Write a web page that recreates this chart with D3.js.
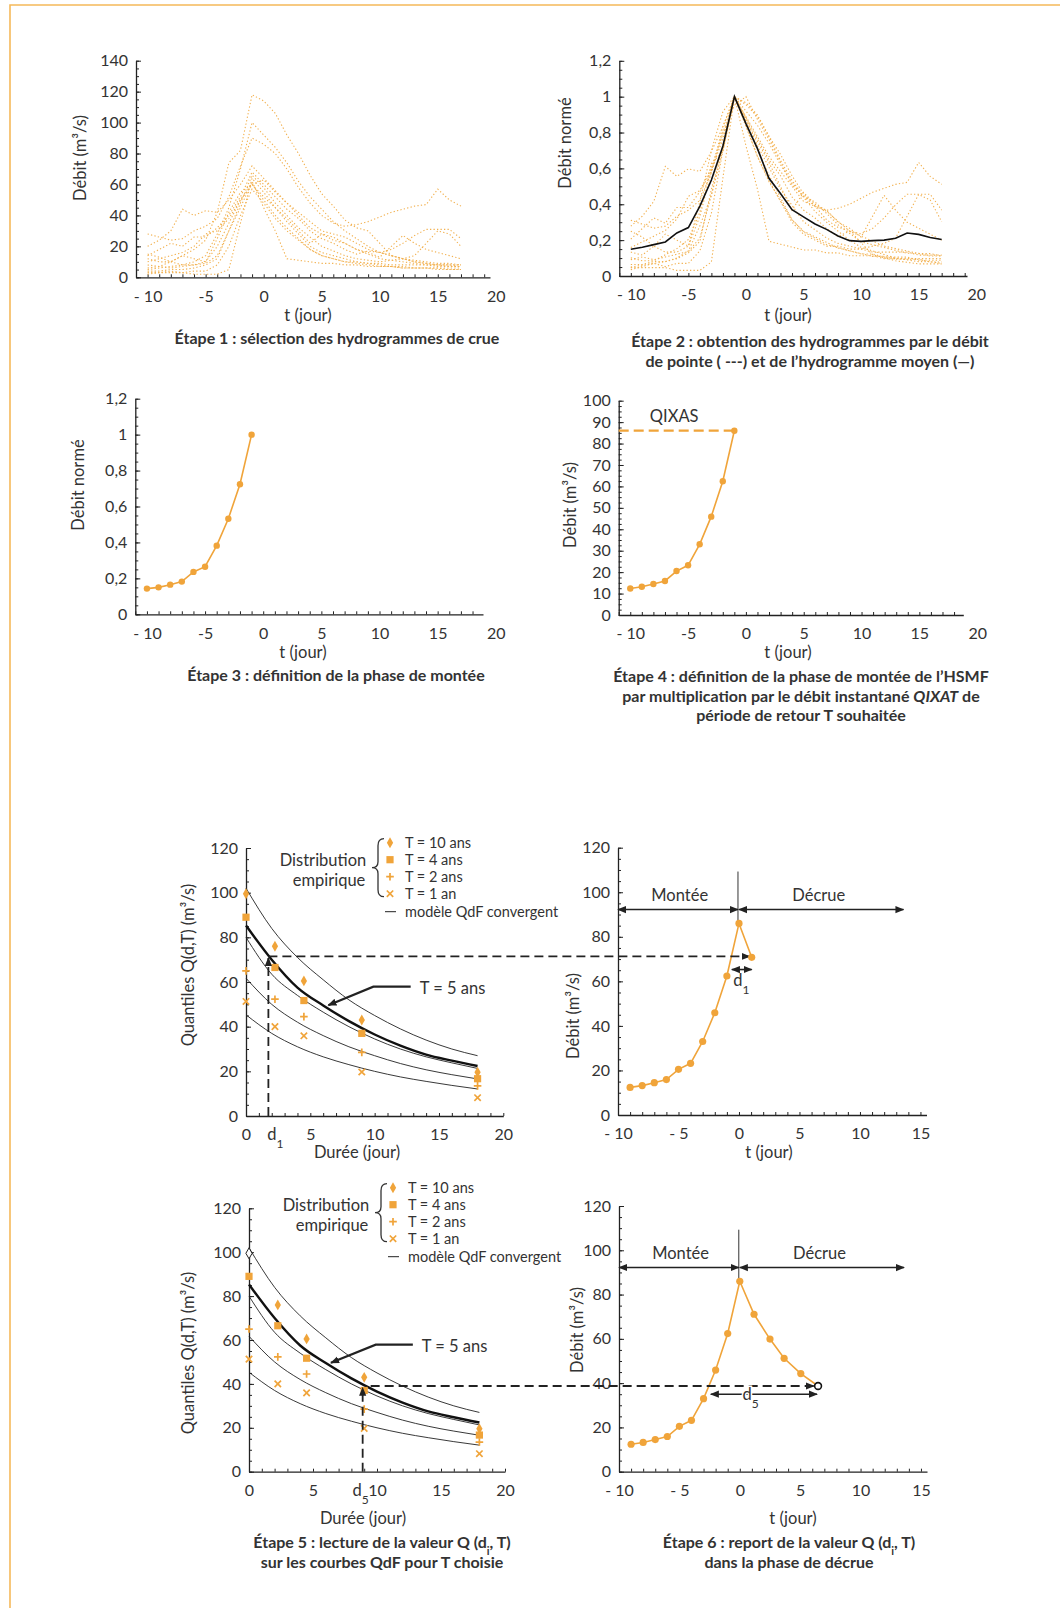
<!DOCTYPE html>
<html>
<head>
<meta charset="utf-8">
<script src="https://cdn.jsdelivr.net/npm/d3@7"></script>
<style>
  body { margin: 0; background: #fff; }
  text { font-family: Lato, "Open Sans", sans-serif; fill: #333; }
</style>
</head>
<body>
<div id="fig"></div>
<script>

// ---- data ----
var jours = [-10,-9,-8,-7,-6,-5,-4,-3,-2,-1,0,1,2,3,4,5,6,7,8,9,10,11,12,13,14,15,16,17];

// selected flood hydrographs (m3/s)
var crue01 = [12,10,10,14,18,24,42,74,82,118,114,106,92,80,66,54,46,37,32,30,22,14,12,10,9,8,8,8];
var crue02 = [5,6,7,8,10,14,28,45,70,100,92,84,74,62,52,44,36,30,25,20,16,14,12,10,9,8,8,7];
var crue03 = [28,26,24,25,30,33,38,52,72,90,86,80,70,58,48,40,35,33,34,36,39,42,44,46,47,57,50,46];
var crue04 = [20,24,30,44,40,43,42,50,60,72,64,56,48,42,36,30,28,26,22,18,16,14,12,11,10,9,9,8];
var crue05 = [14,18,22,20,26,26,32,40,52,68,60,52,44,38,30,25,22,18,15,17,16,18,22,27,31,31,31,25];
var crue06 = [10,12,14,16,20,28,30,38,50,60,63,55,48,40,32,28,26,22,18,15,12,11,10,9,8,8,7,7];
var crue07 = [4,4,5,5,6,8,12,30,45,62,45,30,12,11,10,9,9,8,8,7,7,7,6,6,6,6,6,6];
var crue08 = [3,3,3,3,2,2,2,5,35,64,55,45,36,28,20,16,14,12,10,9,8,7,7,6,6,6,5,5];
var crue09 = [8,7,10,14,12,10,25,42,55,60,52,45,38,30,22,28,24,22,18,16,13,20,27,22,18,16,14,12];
var crue10 = [6,7,6,7,8,9,14,30,48,66,58,48,40,32,26,20,17,14,12,11,10,11,12,14,22,30,28,20];
var crue11 = [15,13,10,8,8,10,20,35,50,60,50,40,32,25,18,14,12,10,10,9,9,8,8,8,8,7,7,7];
var crue12 = [2,3,4,3,4,4,8,20,40,57,48,38,30,24,18,14,12,10,9,8,7,7,6,6,6,5,5,5];
var crues = [crue01,crue02,crue03,crue04,crue05,crue06,crue07,crue08,crue09,crue10,crue11,crue12];

// mean normalised hydrograph (black line, step 2)
var hydroMoyen = [0.149,0.16,0.175,0.19,0.24,0.27,0.39,0.535,0.725,1.0,0.85,0.71,0.545,0.46,0.37,0.33,0.29,0.26,0.223,0.197,0.193,0.197,0.2,0.21,0.24,0.232,0.215,0.204];

// rising phase
var monteeT = [-10,-9,-8,-7,-6,-5,-4,-3,-2,-1];
var monteeNorm = [0.143,0.150,0.165,0.182,0.236,0.265,0.382,0.532,0.724,1.0];
var monteeQ = [12.4,13.2,14.5,15.9,20.5,23.2,33,45.9,62.4,86];
var qixas = 86;
var monteeT6 = [-9,-8,-7,-6,-5,-4,-3,-2,-1,0];

// falling phase, steps 6
var decrueT1 = [1.05], decrueQ1 = [70.8];
var decrueT5 = [1.18,2.5,3.67,5.05,6.48], decrueQ5 = [71.1,59.9,51.2,44.3,38.7];

// QdF: empirical quantiles
var durees = [0,2.25,4.5,9,18];
var empT10 = [99.5,76,60.5,43,19.6];
var empT4  = [89,66.5,51.7,37,16.7];
var empT2  = [65,52.3,44.5,28.5,13.5];
var empT1  = [51.3,40,35.9,19.7,8.2];

// QdF: converging model curves
var modD   = [0,2,4,6,8,10,12,14,16,18];
var modT10 = [102,84,71,61,52,45,39,34,30,27];
var modT5  = [85.3,70,57.5,49.5,42.5,36.5,31.5,27.5,24.8,22.4];
var modT4  = [80,63.5,54,46.5,40,34.5,30,26.5,23.8,21.3];
var modT2  = [61.7,50,42,36,31,27,23.5,20.7,18.5,16.6];
var modT1  = [45.3,37,31,26.5,23,20,17.5,15.5,13.7,12.1];

var d1 = 1.74, q1 = 71.2;
var d5 = 8.88, q5 = 38.7;

// tick labels
var tLabels = ["- 10","-5","0","5","10","15","20"];
var tTicks = [-10,-5,0,5,10,15,20];
var t6Labels = ["- 10","- 5","0","5","10","15"];
var t6Ticks = [-10,-5,0,5,10,15];

// ---- drawing ----
var ORANGE = "#f0a43a", DOTS = "#f2b150", INK = "#222";
var TITLE = 16.5;
var width = 1060, height = 1608;
var svg = d3.select("#fig").append("svg")
  .attr("width", width).attr("height", height);

var defs = svg.append("defs");
defs.append("marker").attr("id","ah")
  .attr("viewBox","0 0 10 10").attr("refX",9).attr("refY",5)
  .attr("markerWidth",9).attr("markerHeight",9)
  .attr("markerUnits","userSpaceOnUse")
  .attr("orient","auto-start-reverse")
  .append("path").attr("d","M0,1L10,5L0,9z").attr("fill",INK);

// frame
svg.append("path").attr("d","M10,1608V5H1060")
  .attr("fill","none").attr("stroke","#f5b95a").attr("stroke-width",1.6);

function range(a, b, s){ var r=[]; for (var v=a; v<=b+1e-9; v+=s) r.push(+v.toFixed(4)); return r; }

function axes(x, y, o){
  var y0 = y.range()[0], x0 = x.range()[0];
  var gx = svg.append("g").attr("transform","translate(0,"+y0+")");
  gx.call(d3.axisBottom(x).tickValues(o.xMinor).tickSize(-3).tickSizeOuter(0).tickFormat(""));
  var gxl = svg.append("g").attr("transform","translate(0,"+y0+")");
  gxl.call(d3.axisBottom(x).tickValues(o.xTicks).tickSize(0).tickPadding(o.xPad||13)
    .tickFormat(function(d,i){ return o.xLabels[i]; }));
  gxl.select(".domain").remove();

  var gy = svg.append("g").attr("transform","translate("+x0+",0)");
  gy.call(d3.axisLeft(y).tickValues(o.yMinor).tickSize(-3).tickSizeOuter(0).tickFormat(""));
  var gyl = svg.append("g").attr("transform","translate("+x0+",0)");
  gyl.call(d3.axisLeft(y).tickValues(o.yTicks).tickSize(-5).tickPadding(8).tickFormat(o.yFmt));
  gyl.select(".domain").remove();

  [gx,gxl,gy,gyl].forEach(function(g){
    g.selectAll(".domain").attr("stroke",INK).attr("stroke-width",1.3);
    g.selectAll(".tick line").attr("stroke",INK);
    g.selectAll("text").attr("font-family",null).attr("font-size",16).attr("fill","#333");
  });
}

function label(x, y, txt, rot, size){
  var t = svg.append("text").attr("text-anchor","middle")
    .attr("font-size", size||TITLE).attr("dominant-baseline","central");
  if (rot) t.attr("transform","translate("+x+","+y+") rotate(-90)");
  else t.attr("x",x).attr("y",y);
  t.text(txt);
  return t;
}

function caption(x, y, lines){
  lines.forEach(function(parts, i){
    var t = svg.append("text").attr("x",x).attr("y",y+i*19.5)
      .attr("text-anchor","middle").attr("font-size",16).attr("font-weight","bold")
      .attr("fill","#222");
    parts.forEach(function(p){
      var s = t.append("tspan").text(p.t);
      if (p.it) s.attr("font-style","italic");
      if (p.sub) s.attr("font-size",11).attr("baseline-shift","sub");
    });
  });
}

function subText(x, y, main, sub, halo){
  var t = svg.append("text").attr("x",x).attr("y",y).attr("text-anchor","middle")
    .attr("font-size",16.5).text(main);
  if (halo) t.attr("stroke","#fff").attr("stroke-width",3).attr("paint-order","stroke");
  t.append("tspan").attr("font-size",12).attr("baseline-shift","sub").text(sub);
}

var fmtComma = function(d){ return d3.format(".1~f")(d).replace(".",","); };

// ===== Step 1 =====
var x1 = d3.scaleLinear([-11,19.5],[136,490]);
var y1 = d3.scaleLinear([0,140],[277.3,60.7]);
axes(x1, y1, {xMinor: range(-11,19,1), xTicks: tTicks, xLabels: tLabels,
  yMinor: range(0,140,5), yTicks: range(0,140,20), yFmt: d3.format("d")});
var line1 = d3.line().x(function(d,i){ return x1(jours[i]); }).y(function(d){ return y1(d); });
svg.append("g").selectAll("path").data(crues).enter().append("path")
  .attr("d", line1).attr("fill","none").attr("stroke",DOTS)
  .attr("stroke-width",1.1).attr("stroke-dasharray","1.3,2.2");
label(80, 158, "Débit (m³/s)", true);
label(308, 315, "t (jour)");
caption(337, 344, [[{t:"Étape 1 : sélection des hydrogrammes de crue"}]]);

// ===== Step 2 =====
var x2 = d3.scaleLinear([-11,19.2],[619.3,967]);
var y2 = d3.scaleLinear([0,1.2],[276,60.8]);
axes(x2, y2, {xMinor: range(-11,19,1), xTicks: tTicks, xLabels: tLabels,
  yMinor: range(0,1.2,0.05), yTicks: range(0,1.2,0.2), yFmt: fmtComma});
var line2 = d3.line().x(function(d,i){ return x2(jours[i]); }).y(function(d){ return y2(d); });
svg.append("g").selectAll("path").data(crues.map(function(c){
    var m = d3.max(c); return c.map(function(v){ return v/m; }); }))
  .enter().append("path")
  .attr("d", line2).attr("fill","none").attr("stroke",DOTS)
  .attr("stroke-width",1.1).attr("stroke-dasharray","1.3,2.2");
svg.append("path").datum(hydroMoyen).attr("d", line2)
  .attr("fill","none").attr("stroke","#111").attr("stroke-width",1.6);
label(565, 143, "Débit normé", true);
label(788, 315, "t (jour)");
caption(810, 347, [[{t:"Étape 2 : obtention des hydrogrammes par le débit"}],
                   [{t:"de pointe ( ---) et de l’hydrogramme moyen (—)"}]]);

// ===== Step 3 =====
var x3 = d3.scaleLinear([-11,18.9],[135.3,483]);
var y3 = d3.scaleLinear([0,1.2],[614.3,398.7]);
axes(x3, y3, {xMinor: range(-11,18,1), xTicks: tTicks, xLabels: tLabels,
  yMinor: range(0,1.2,0.05), yTicks: range(0,1.2,0.2), yFmt: fmtComma});
var line3 = d3.line().x(function(d,i){ return x3(monteeT[i]); }).y(function(d){ return y3(d); });
svg.append("path").datum(monteeNorm).attr("d", line3)
  .attr("fill","none").attr("stroke",ORANGE).attr("stroke-width",1.6);
svg.append("g").selectAll("circle").data(monteeNorm).enter().append("circle")
  .attr("cx",function(d,i){ return x3(monteeT[i]); }).attr("cy",function(d){ return y3(d); })
  .attr("r",3.2).attr("fill",ORANGE);
label(78, 485, "Débit normé", true);
label(303, 652, "t (jour)");
caption(336, 681, [[{t:"Étape 3 : définition de la phase de montée"}]]);

// ===== Step 4 =====
var x4 = d3.scaleLinear([-11,18.8],[618.7,963.3]);
var y4 = d3.scaleLinear([0,100],[615,400.7]);
axes(x4, y4, {xMinor: range(-11,18,1), xTicks: tTicks, xLabels: tLabels,
  yMinor: range(0,100,2.5), yTicks: range(0,100,10), yFmt: d3.format("d")});
svg.append("line").attr("x1",x4(-11)).attr("x2",x4(monteeT[9]))
  .attr("y1",y4(qixas)).attr("y2",y4(qixas))
  .attr("stroke",ORANGE).attr("stroke-width",2.2).attr("stroke-dasharray","10,5");
var line4 = d3.line().x(function(d,i){ return x4(monteeT[i]); }).y(function(d){ return y4(d); });
svg.append("path").datum(monteeQ).attr("d", line4)
  .attr("fill","none").attr("stroke",ORANGE).attr("stroke-width",1.6);
svg.append("g").selectAll("circle").data(monteeQ).enter().append("circle")
  .attr("cx",function(d,i){ return x4(monteeT[i]); }).attr("cy",function(d){ return y4(d); })
  .attr("r",3.2).attr("fill",ORANGE);
label(x4(-6.2), y4(92.9), "QIXAS");
label(570, 505, "Débit (m³/s)", true);
label(788, 652, "t (jour)");
caption(801, 682, [[{t:"Étape 4 : définition de la phase de montée de l’HSMF"}],
                   [{t:"par multiplication par le débit instantané "},{t:"QIXAT",it:true},{t:" de"}],
                   [{t:"période de retour T souhaitée"}]]);

// ===== QdF panels (steps 5) =====
function sym(g, type, cx, cy, fill, stroke){
  if (type === "diamond" || type === "square"){
    g.append("path").attr("transform","translate("+cx+","+cy+")")
      .attr("d", d3.symbol(type === "diamond" ? d3.symbolDiamond : d3.symbolSquare, type === "diamond" ? 34 : 52)())
      .attr("fill", fill || ORANGE).attr("stroke", stroke || "none").attr("stroke-width",1);
  } else {
    var r = type === "plus" ? 3.8 : 3.2;
    var d = type === "plus" ? "M"+(-r)+",0H"+r+"M0,"+(-r)+"V"+r
                            : "M"+(-r)+","+(-r)+"L"+r+","+r+"M"+(-r)+","+r+"L"+r+","+(-r);
    g.append("path").attr("transform","translate("+cx+","+cy+")").attr("d", d)
      .attr("stroke", ORANGE).attr("stroke-width",1.7).attr("fill","none");
  }
}

var empSeries = [
  {name:"T = 10 ans", type:"diamond", values: empT10},
  {name:"T = 4 ans",  type:"square",  values: empT4},
  {name:"T = 2 ans",  type:"plus",    values: empT2},
  {name:"T = 1 an",   type:"cross",   values: empT1}
];
var modSeries = [modT10, modT4, modT2, modT1];

function qdfPanel(x, y, o){
  axes(x, y, {xMinor: range(0,20,1), xTicks: o.xTicks, xLabels: o.xLabels,
    yMinor: range(0,120,5), yTicks: range(0,120,20), yFmt: d3.format("d")});
  var ln = d3.line().curve(d3.curveMonotoneX)
    .x(function(d,i){ return x(modD[i]); }).y(function(d){ return y(d); });
  svg.append("g").selectAll("path").data(modSeries).enter().append("path")
    .attr("d", ln).attr("fill","none").attr("stroke",INK).attr("stroke-width",0.9);
  svg.append("path").datum(modT5).attr("d", ln)
    .attr("fill","none").attr("stroke","#111").attr("stroke-width",2.4);
  var gp = svg.append("g");
  empSeries.forEach(function(s){
    s.values.forEach(function(v,i){
      if (o.openFirst && s.type === "diamond" && i === 0) sym(gp, s.type, x(durees[i]), y(v), "#fff", INK);
      else sym(gp, s.type, x(durees[i]), y(v));
    });
  });

  // T = 5 ans pointer
  svg.append("path")
    .attr("d", d3.line()([[x(12.8),y(57.9)],[x(9.9),y(57.9)],[x(6.4),y(49.6)]]))
    .attr("fill","none").attr("stroke",INK).attr("stroke-width",2.2).attr("marker-end","url(#ah)");
  svg.append("text").attr("x",x(13.5)).attr("y",y(57.4)).attr("dominant-baseline","central")
    .attr("font-size",16.5).text("T = 5 ans");

  // legend
  var lx = x(0) + 144, ly = y(120) + o.legDy;
  var gl = svg.append("g");
  empSeries.forEach(function(s,i){
    sym(gl, s.type, lx, ly + i*17);
    gl.append("text").attr("x", lx+15).attr("y", ly + i*17).attr("dominant-baseline","central")
      .attr("font-size",14.5).text(s.name);
  });
  gl.append("line").attr("x1",lx-5).attr("x2",lx+6).attr("y1",ly+69).attr("y2",ly+69)
    .attr("stroke",INK).attr("stroke-width",1);
  gl.append("text").attr("x", lx+15).attr("y", ly+69).attr("dominant-baseline","central")
    .attr("font-size",14.5).text("modèle QdF convergent");
  gl.append("text").attr("x", lx-67).attr("y", ly+17.5).attr("text-anchor","middle")
    .attr("dominant-baseline","central").attr("font-size",16.5).text("Distribution");
  gl.append("text").attr("x", lx-61).attr("y", ly+37).attr("text-anchor","middle")
    .attr("dominant-baseline","central").attr("font-size",16.5).text("empirique");
  var bx = lx-12, by = ly+25, h = 29;
  gl.append("path").attr("d",
      "M"+(bx+6)+","+(by-h)+"Q"+bx+","+(by-h)+" "+bx+","+(by-h+7)+
      "L"+bx+","+(by-6)+"Q"+bx+","+by+" "+(bx-6)+","+by+
      "Q"+bx+","+by+" "+bx+","+(by+6)+
      "L"+bx+","+(by+h-7)+"Q"+bx+","+(by+h)+" "+(bx+6)+","+(by+h))
    .attr("fill","none").attr("stroke","#333").attr("stroke-width",1.3);
}

function hydroPanel(x, y){
  axes(x, y, {xMinor: range(-10,15,1), xTicks: t6Ticks, xLabels: t6Labels,
    yMinor: range(0,120,5), yTicks: range(0,120,20), yFmt: d3.format("d")});
  // Montée / Décrue
  svg.append("line").attr("x1",x(0)-1).attr("x2",x(0)-1).attr("y1",y(109.3)).attr("y2",y(85.3))
    .attr("stroke","#333").attr("stroke-width",1);
  svg.append("line").attr("x1",x(-10)).attr("x2",x(0)-1).attr("y1",y(92.2)).attr("y2",y(92.2))
    .attr("stroke",INK).attr("stroke-width",1.5)
    .attr("marker-start","url(#ah)").attr("marker-end","url(#ah)");
  svg.append("line").attr("x1",x(0)).attr("x2",x(13.6)).attr("y1",y(92.2)).attr("y2",y(92.2))
    .attr("stroke",INK).attr("stroke-width",1.5)
    .attr("marker-start","url(#ah)").attr("marker-end","url(#ah)");
  label(x(-4.9), y(98.6), "Montée");
  label(x(6.6), y(98.6), "Décrue");
}

function hydroCurve(x, y, dt, dq){
  var pts = monteeQ.map(function(v,i){ return [monteeT6[i], v]; });
  dt.forEach(function(t,i){ pts.push([t, dq[i]]); });
  svg.append("path").datum(pts)
    .attr("d", d3.line().x(function(d){ return x(d[0]); }).y(function(d){ return y(d[1]); }))
    .attr("fill","none").attr("stroke",ORANGE).attr("stroke-width",1.6);
  return pts;
}

// ===== Step 5 (top) =====
var x5 = d3.scaleLinear([0,20],[246,503.3]);
var y5 = d3.scaleLinear([0,120],[1116,848]);
qdfPanel(x5, y5, {xTicks:[0,d1,5,10,15,20], xLabels:["0","","5","10","15","20"], legDy:-5.3});
subText(x5(d1)+7, y5(0)+24, "d", "1");
label(188, 965, "Quantiles Q(d,T) (m³/s)", true);
label(357, 1152, "Durée (jour)");

// ===== Step 6 (top) =====
var x6 = d3.scaleLinear([-10,15.5],[618,926.5]);
var y6 = d3.scaleLinear([0,120],[1115,847.7]);
hydroPanel(x6, y6);
// reading line d1
svg.append("line").attr("x1",x5(d1)).attr("x2",x5(d1)).attr("y1",y5(0)).attr("y2",y5(q1)+1)
  .attr("stroke",INK).attr("stroke-width",1.8).attr("stroke-dasharray","9,5").attr("marker-end","url(#ah)");
var pts6 = hydroCurve(x6, y6, decrueT1, decrueQ1);
svg.append("line").attr("x1",x5(d1)).attr("x2",x6(decrueT1[0])-2).attr("y1",y6(q1)).attr("y2",y6(q1))
  .attr("stroke",INK).attr("stroke-width",1.8).attr("stroke-dasharray","9,5").attr("marker-end","url(#ah)");
svg.append("g").selectAll("circle").data(pts6).enter().append("circle")
  .attr("cx",function(d){ return x6(d[0]); }).attr("cy",function(d){ return y6(d[1]); })
  .attr("r",3.6).attr("fill",ORANGE);
svg.append("line").attr("x1",x6(decrueT1[0]-d1+0.1)).attr("x2",x6(decrueT1[0])).attr("y1",y6(65.3)).attr("y2",y6(65.3))
  .attr("stroke",INK).attr("stroke-width",1.6)
  .attr("marker-start","url(#ah)").attr("marker-end","url(#ah)");
subText(x6(0.2), y6(58), "d", "1");
label(573, 1016, "Débit (m³/s)", true);
label(769, 1152, "t (jour)");

// ===== Step 5 (bottom) =====
var x5b = d3.scaleLinear([0,20],[249,505]);
var y5b = d3.scaleLinear([0,120],[1471.7,1208.3]);
qdfPanel(x5b, y5b, {xTicks:[0,5,10,15,20], xLabels:["0","5","10","15","20"], legDy:-20.6, openFirst:true});
subText(x5b(d5)-2, y5b(0)+24, "d", "5");
label(188, 1353, "Quantiles Q(d,T) (m³/s)", true);
label(363, 1518, "Durée (jour)");

// ===== Step 6 (bottom) =====
var x6b = d3.scaleLinear([-10,15.5],[619,927]);
var y6b = d3.scaleLinear([0,120],[1471.7,1206]);
hydroPanel(x6b, y6b);
svg.append("line").attr("x1",x5b(d5)).attr("x2",x5b(d5)).attr("y1",y5b(0)).attr("y2",y5b(q5)+1)
  .attr("stroke",INK).attr("stroke-width",1.8).attr("stroke-dasharray","9,5").attr("marker-end","url(#ah)");
var pts6b = hydroCurve(x6b, y6b, decrueT5, decrueQ5);
svg.append("line").attr("x1",x5b(d5)+8).attr("x2",x6b(decrueT5[4])-4).attr("y1",y6b(q5)).attr("y2",y6b(q5))
  .attr("stroke",INK).attr("stroke-width",1.8).attr("stroke-dasharray","9,5").attr("marker-end","url(#ah)");
svg.append("g").selectAll("circle").data(pts6b.slice(0, pts6b.length-1)).enter().append("circle")
  .attr("cx",function(d){ return x6b(d[0]); }).attr("cy",function(d){ return y6b(d[1]); })
  .attr("r",3.6).attr("fill",ORANGE);
svg.append("circle").attr("cx",x6b(decrueT5[4])).attr("cy",y6b(decrueQ5[4])).attr("r",3.4)
  .attr("fill","#fff").attr("stroke","#111").attr("stroke-width",1.6);
svg.append("line").attr("x1",x6b(decrueT5[4]-d5)).attr("x2",x6b(decrueT5[4])-1).attr("y1",y6b(35)).attr("y2",y6b(35))
  .attr("stroke",INK).attr("stroke-width",1.6)
  .attr("marker-start","url(#ah)").attr("marker-end","url(#ah)");
subText(x6b(0.9), y6b(35)+6, "d", "5", true);
label(577, 1330, "Débit (m³/s)", true);
label(793, 1518, "t (jour)");

caption(382, 1548, [[{t:"Étape 5 : lecture de la valeur Q (d"},{t:"i",sub:true},{t:", T)"}],
                    [{t:"sur les courbes QdF pour T choisie"}]]);
caption(789, 1548, [[{t:"Étape 6 : report de la valeur Q (d"},{t:"i",sub:true},{t:", T)"}],
                    [{t:"dans la phase de décrue"}]]);

</script>
</body>
</html>
